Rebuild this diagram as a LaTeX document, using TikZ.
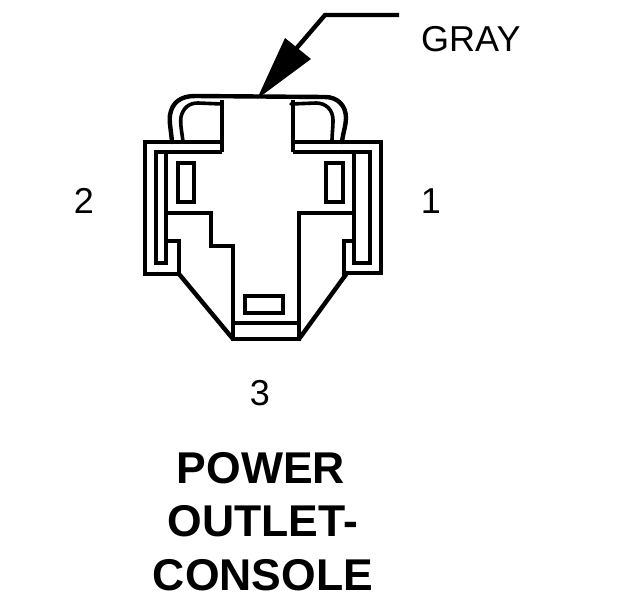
\documentclass[tikz,border=0pt]{standalone}
\usepackage{fontspec}
\setmainfont{Liberation Sans}
\tikzset{
  outline/.style={draw=black,line width=4.4pt,line cap=butt,line join=miter},
  thinline/.style={draw=black,line width=3.6pt,line cap=round,line join=round},
  slant/.style={draw=black,line width=4.4pt,line cap=round},
  pin/.style={font=\fontsize{36}{36}\selectfont,inner sep=0pt,anchor=base},
  title/.style={font=\fontsize{44.5}{44.5}\selectfont\bfseries,inner sep=0pt,anchor=base},
}
\begin{document}
\begin{tikzpicture}[x=1pt,y=-1pt]
\useasboundingbox (0,0) rectangle (624,600);
% leader and arrowhead
\coordinate (leadEnd) at (399,15);
\coordinate (leadBend) at (325,15);
\coordinate (leadTip) at (257,99);
\draw[outline] (leadEnd) -- (leadBend) -- (295,50);
\fill[black] (leadTip) -- (285,38) -- (311,59) -- cycle;
% handle
\draw[slant] (172,142) .. controls (171,130) and (169,122) .. (170,115) .. controls (172,103) and (180,96) .. (195,96) -- (325,97) .. controls (338,97) and (346,106) .. (346,118) .. controls (346,125) and (343,133) .. (342,142);
\draw[thinline] (183,142) .. controls (182,132) and (180,125) .. (181,117) .. controls (183,108) and (189,103) .. (198,103) -- (222,104);
\draw[thinline] (291,104) -- (316,103) .. controls (326,103) and (333,110) .. (333,120) .. controls (333,128) and (332,134) .. (332,142);
% centre latch
\draw[outline] (222,100) -- (222,152);
\draw[outline] (293,100) -- (293,152);
% left side of housing
\draw[outline] (222,142) -- (145,142) -- (145,274) -- (179,274) -- (179,241) -- (166,241);
\draw[outline] (222,152) -- (156,152) -- (156,263) -- (166,263) -- (166,152);
% right side of housing
\draw[outline] (293,142) -- (381,142) -- (381,273) -- (347,273);
\draw[outline] (293,152) -- (370,152) -- (370,263) -- (354,263) -- (354,152);
\draw[outline] (354,241) -- (344,241) -- (344,279);
% lower body
\draw[outline] (166,213) -- (211,213) -- (211,246) -- (233,246) -- (233,339) -- (299,339) -- (299,213) -- (354,213);
\draw[outline] (233,323) -- (299,323);
\draw[slant] (179,274) -- (233,339);
\draw[slant] (347,273) -- (299,339);
% terminals
\draw[outline] (178,163) rectangle (194,202);
\draw[outline] (326,163) rectangle (343,202);
\draw[outline] (245,296) rectangle (283,313);
% labels
\node[pin,anchor=base west] (gray) at (421,51) {GRAY};
\node[pin] (pin2) at (84,213) {2};
\node[pin] (pin1) at (431,213) {1};
\node[pin] (pin3) at (260,405) {3};
\node[title] (t1) at (261,483) {POWER};
\node[title] (t2) at (263,536) {OUTLET-};
\node[title] (t3) at (263,590) {CONSOLE};
\end{tikzpicture}
\end{document}
